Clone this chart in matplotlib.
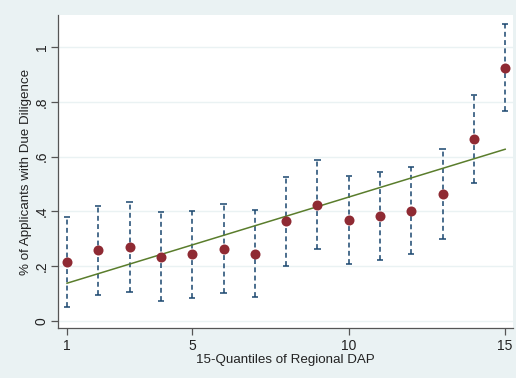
import matplotlib
matplotlib.use("Agg")
import matplotlib.pyplot as plt
import numpy as np

plt.rcParams['font.family'] = ['Liberation Sans', 'DejaVu Sans']

# Quantile bins of regional DAP
quantiles = np.arange(1, 16)
# Share of applicants with due diligence, with 95% CI bounds
share = [0.216, 0.258, 0.269, 0.235, 0.243, 0.263, 0.246, 0.364,
         0.423, 0.369, 0.382, 0.403, 0.462, 0.664, 0.925]
ci_upper = [0.378, 0.421, 0.433, 0.398, 0.403, 0.426, 0.406, 0.527,
            0.588, 0.530, 0.545, 0.563, 0.627, 0.826, 1.084]
ci_lower = [0.052, 0.095, 0.107, 0.073, 0.084, 0.101, 0.086, 0.201,
            0.262, 0.207, 0.223, 0.245, 0.300, 0.503, 0.766]
# Linear fit endpoints
fit_x = [1, 15]
fit_y = [0.138, 0.627]

xticks = [1, 5, 10, 15]
yticks = [0, 0.2, 0.4, 0.6, 0.8, 1.0]
ytick_labels = ['0', '.2', '.4', '.6', '.8', '1']

bg = '#eaf2f3'
navy = '#1a476f'
maroon = '#8f2a33'
green = '#5a7d2c'

fig = plt.figure(figsize=(5.16, 3.78), dpi=100, facecolor=bg)
ax = fig.add_axes([58/516, 1 - 328/378, (513 - 58)/516, (328 - 15)/378])
ax.set_facecolor('white')

share = np.array(share)
lo = np.array(ci_lower)
hi = np.array(ci_upper)

# Confidence intervals as dashed lines with caps
ax.vlines(quantiles, lo, hi, colors=navy, linestyles=(0, (3.2, 2.2)), linewidth=1.1, zorder=2)
ax.hlines(np.concatenate([lo, hi]), np.concatenate([quantiles, quantiles]) - 0.1,
          np.concatenate([quantiles, quantiles]) + 0.1, colors=navy, linewidth=1.1, zorder=2)

ax.plot(fit_x, fit_y, color=green, linewidth=1.1, zorder=3)
ax.scatter(quantiles, share, s=52, color=maroon, zorder=4, linewidths=0)

ax.set_xlim(0.712, 15.25)
ax.set_ylim(-0.0255, 1.117)

ax.set_yticks(yticks)
ax.set_yticklabels(ytick_labels, rotation=90, va='center')
ax.set_xticks(xticks)
ax.grid(axis='y', color=bg, linewidth=1.0)
ax.set_axisbelow(True)

for s in ['top', 'right']:
    ax.spines[s].set_visible(False)
for s in ['left', 'bottom']:
    ax.spines[s].set_color('#555555')
    ax.spines[s].set_linewidth(0.9)

ax.tick_params(axis='both', length=5, width=0.9, color='#555555', labelsize=10, labelcolor='#222222', pad=3)
ax.tick_params(axis='y', pad=1.5)

ax.set_xlabel('15-Quantiles of Regional DAP', fontsize=9.6, color='#222222', labelpad=0.8)
ax.set_ylabel('% of Applicants with Due Diligence', fontsize=9.6, color='#222222')
ax.yaxis.set_label_coords(-0.057, 0.5)

fig.savefig('out.png', dpi=100, facecolor=bg)
